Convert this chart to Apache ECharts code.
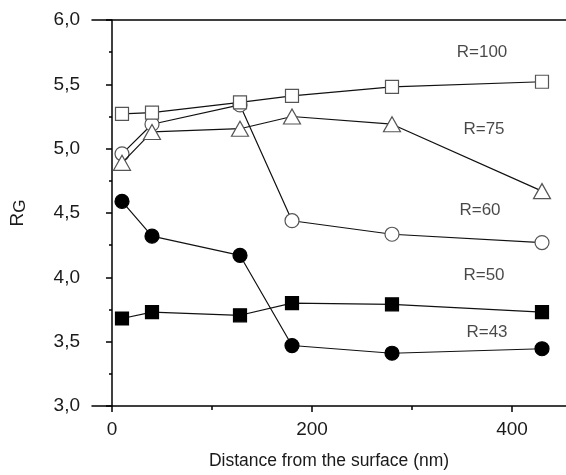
<!DOCTYPE html>
<html>
<head>
<meta charset="utf-8">
<script src="https://cdn.jsdelivr.net/npm/echarts@6/dist/echarts.min.js"></script>
<style>
html,body{margin:0;padding:0;background:#fff;}
#chart{width:566px;height:475px;}
</style>
</head>
<body>
<div id="chart"></div>
<script>
var distances = [10, 40, 128, 180, 280, 430];
var r100 = [5.27, 5.28, 5.36, 5.41, 5.48, 5.52];
var r75  = [4.89, 5.13, 5.155, 5.25, 5.19, 4.67];
var r60  = [4.96, 5.19, 5.34, 4.44, 4.335, 4.27];
var r50  = [3.68, 3.73, 3.705, 3.80, 3.79, 3.73];
var r43  = [4.59, 4.32, 4.17, 3.47, 3.41, 3.445];
var seriesNames = ['R=100', 'R=75', 'R=60', 'R=50', 'R=43'];
var labelPos = [[370, 5.747], [372, 5.148], [368, 4.519], [372, 4.013], [375, 3.575]];
var xMajorTicks = [0, 200, 400];
var xMinorTicks = [100, 300];

var FONT = '"Liberation Sans", Arial, sans-serif';
var TXT = '#1a1a1a';
function pts(ys){ return distances.map(function(x,i){ return [x, ys[i]]; }); }

var styles = [
  {symbol:'rect', size:[13,13], fill:'#fff', border:'#555', z:9},
  {symbol:'triangle', size:[17,15], fill:'#fff', border:'#555', z:7},
  {symbol:'circle', size:14, fill:'#fff', border:'#555', z:6},
  {symbol:'rect', size:[13,13], fill:'#000', border:'#000', z:5},
  {symbol:'circle', size:14, fill:'#000', border:'#000', z:4}
];
var allData = [r100, r75, r60, r50, r43];

var series = allData.map(function(ys, i){
  var s = styles[i];
  return {
    name: seriesNames[i], type:'line', xAxisIndex:0, yAxisIndex:0,
    data: pts(ys), symbol: s.symbol, symbolSize: s.size, showAllSymbol:true,
    lineStyle:{color:'#111', width:1.2},
    itemStyle:{color:s.fill, borderColor:s.border, borderWidth:1.2},
    emphasis:{disabled:true}, animation:false, z: s.z
  };
});
series.push({
  type:'scatter', xAxisIndex:0, yAxisIndex:0, symbolSize:0,
  data: labelPos.map(function(p,i){ return [p[0], p[1], seriesNames[i]]; }),
  label:{show:true, position:'inside', formatter:function(p){return p.value[2];},
    color:TXT, fontSize:17, fontFamily:FONT},
  animation:false, silent:true, z:10
});

var chart = echarts.init(document.getElementById('chart'), null, {renderer:'canvas'});
chart.setOption({
  backgroundColor:'#fff',
  animation:false,
  grid:{left:91, top:20, right:0, bottom:64, containLabel:false},
  xAxis:[
    {type:'value', position:'bottom', min:-20, max:454,
     name:'Distance from the surface (nm)', nameLocation:'middle', nameGap:46,
     nameTextStyle:{color:TXT, fontSize:17.5, fontFamily:FONT},
     axisLine:{show:true, lineStyle:{color:'#000', width:1.5}},
     axisTick:{show:true, inside:false, length:6, customValues:xMajorTicks, lineStyle:{color:'#000', width:1.5}},
     axisLabel:{show:true, customValues:xMajorTicks, margin:14, color:TXT, fontSize:19, fontFamily:FONT},
     splitLine:{show:false}},
    {type:'value', position:'bottom', min:-20, max:454,
     axisLine:{show:false},
     axisTick:{show:true, inside:false, length:4, customValues:xMinorTicks, lineStyle:{color:'#000', width:1.5}},
     axisLabel:{show:false}, splitLine:{show:false}},
    {type:'value', position:'top', min:-20, max:454,
     axisLine:{show:true, lineStyle:{color:'#000', width:1.5}},
     axisTick:{show:false}, axisLabel:{show:false}, splitLine:{show:false}}
  ],
  yAxis:[
    {type:'value', min:3, max:6, interval:0.5,
     name:'{r|R}{g|G}', nameLocation:'middle', nameGap:63, nameRotate:90,
     nameTextStyle:{color:TXT, fontFamily:FONT, rich:{
       r:{fontSize:19, fontFamily:FONT, color:TXT},
       g:{fontSize:17, fontFamily:FONT, color:TXT, padding:[6,0,0,0]}}},
     axisLine:{show:true, lineStyle:{color:'#000', width:1.5}},
     axisTick:{show:true, inside:false, length:6, lineStyle:{color:'#000', width:1.5}},
     minorTick:{show:true, splitNumber:2, length:3, lineStyle:{color:'#000', width:1.5}},
     axisLabel:{margin:12, color:TXT, fontSize:19, fontFamily:FONT,
       formatter:function(v){ return v.toFixed(1).replace('.', ','); }},
     splitLine:{show:false}, minorSplitLine:{show:false}}
  ],
  series: series
});
</script>
</body>
</html>
